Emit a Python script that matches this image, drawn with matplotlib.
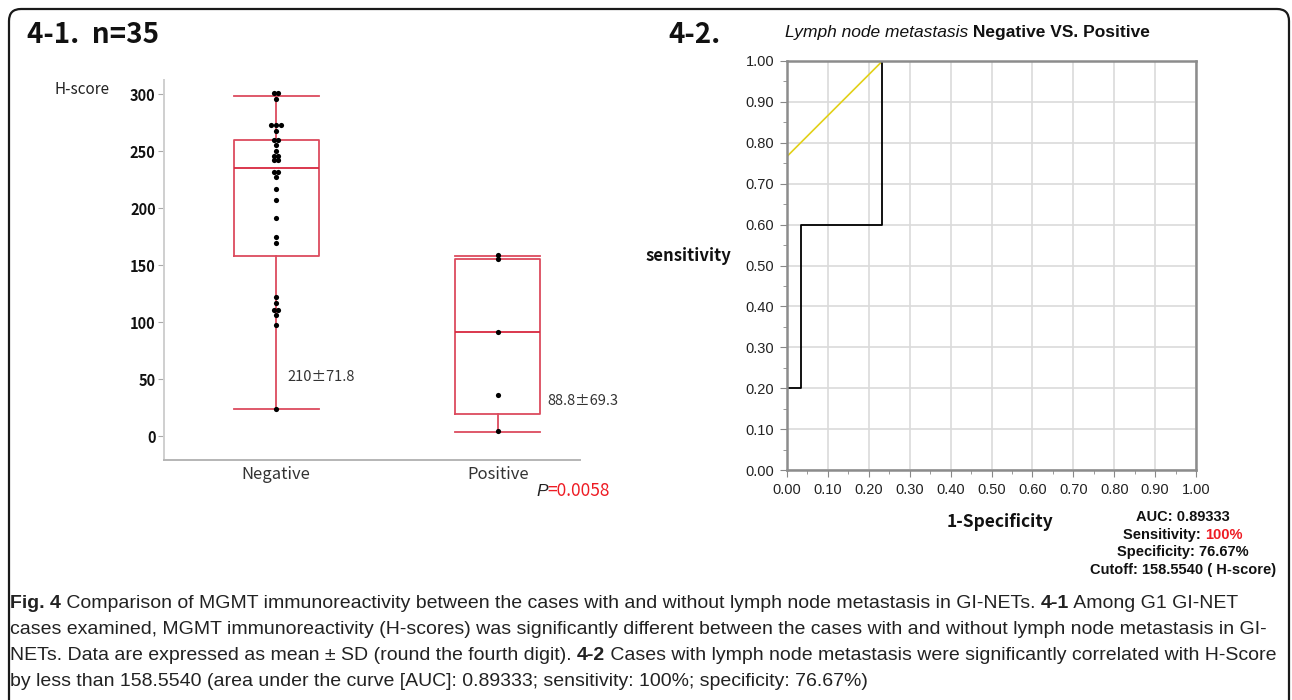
import matplotlib.pyplot as plt
import numpy as np
from matplotlib.patches import FancyBboxPatch
from matplotlib.transforms import IdentityTransform
from matplotlib.ticker import MultipleLocator, FormatStrFormatter

W, H = 1292, 700

# 4-1 box plot data (H-score)
groups = ['Negative', 'Positive']
neg_scores = [301, 301, 296, 273, 273, 273, 268, 260, 260, 255, 250, 246, 246,
              242, 242, 232, 232, 227, 217, 207, 191, 175, 169, 122, 117, 111,
              111, 106, 97, 24]
pos_scores = [159, 155, 91, 36, 4]
box_q1 = [157.6, 19.6]
box_med = [235.4, 91.0]
box_q3 = [259.4, 155.5]
whisker_lo = [23.6, 3.5]
whisker_hi = [298.2, 158.2]
mean_sd = ['210±71.8', '88.8±69.3']
h_ticks = [0, 50, 100, 150, 200, 250, 300]
p_value = '0.0058'

# 4-2 ROC curve data
roc_fpr = [0.0, 0.0, 0.0333, 0.0333, 0.2333, 0.2333, 1.0]
roc_tpr = [0.0, 0.2, 0.2, 0.6, 0.6, 1.0, 1.0]
tangent_fpr = [0.0, 0.2333]
tangent_tpr = [0.7667, 1.0]
roc_ticks = [0.0, 0.1, 0.2, 0.3, 0.4, 0.5, 0.6, 0.7, 0.8, 0.9, 1.0]
auc_text = 'AUC: 0.89333'
sens_value = '100%'
spec_text = 'Specificity: 76.67%'
cutoff_text = 'Cutoff: 158.5540 ( H-score)'

JP = ['Noto Sans CJK JP', 'DejaVu Sans']
ARIAL = ['Liberation Sans', 'DejaVu Sans']
RED = '#dc4b5e'


def fx(x):
    return x / W


def fy(y):
    return 1 - y / H


# draw several text runs on one line, each with its own style
def text_runs(fig, x, y, runs, ha='left', **kw):
    r = fig.canvas.get_renderer()
    made = []
    for s, extra in runs:
        t = fig.text(0, fy(y), s, va='center', **{**kw, **extra})
        made.append((t, t.get_window_extent(r).width))
    total = sum(w for _, w in made)
    cur = x - total / 2 if ha == 'center' else x
    for t, w in made:
        t.set_x(fx(cur))
        cur += w


# spread duplicate values side by side
def swarm_x(vals, center, step=0.021):
    xs = []
    seen = {}
    for v in vals:
        n = vals.count(v)
        j = seen.get(v, 0)
        seen[v] = j + 1
        xs.append(center + (j - (n - 1) / 2) * step)
    return xs


fig = plt.figure(figsize=(W / 100, H / 100), dpi=100)
fig.canvas.draw()

# outer rounded frame
frame = FancyBboxPatch((9, -30), 1280, 721, boxstyle='round,pad=0,rounding_size=12',
                       transform=IdentityTransform(), fill=False, ec='#1a1a1a', lw=1.6)
fig.add_artist(frame)

# ---------------- 4-1 box plot ----------------
ax1 = fig.add_axes([fx(164), fy(460), fx(580 - 164), (460 - 80) / H])
stats = []
for i in range(len(groups)):
    stats.append(dict(med=box_med[i], q1=box_q1[i], q3=box_q3[i],
                      whislo=whisker_lo[i], whishi=whisker_hi[i], fliers=[]))
lp = dict(color=RED, lw=1.3)
ax1.bxp(stats, positions=[0, 1], widths=0.383, capwidths=[0.383, 0.383],
        showfliers=False, boxprops=lp, whiskerprops=lp, capprops=lp,
        medianprops=dict(color='#d8283f', lw=1.3))
for pos, vals in enumerate([neg_scores, pos_scores]):
    ax1.scatter(swarm_x(vals, pos), vals, s=14, color='black', zorder=5, lw=0)

ax1.set_xlim(-0.505, 1.37)
ax1.set_ylim(-21, 312.3)
ax1.set_yticks(h_ticks)
ax1.set_xticks([0, 1])
ax1.set_xticklabels(groups, fontsize=12, family=JP, color='#333')
ax1.tick_params(axis='x', length=0, pad=4)
ax1.tick_params(axis='y', length=4, color='#aaa', pad=2, labelsize=10.5)
for lab in ax1.get_yticklabels():
    lab.set_family(JP)
    lab.set_weight('bold')
    lab.set_color('#111')
for s in ['top', 'right']:
    ax1.spines[s].set_visible(False)
ax1.spines['left'].set_color('#cfcfcf')
ax1.spines['bottom'].set_color('#b5b5b5')
ax1.spines['left'].set_linewidth(1.4)
ax1.spines['bottom'].set_linewidth(1.4)

ax1.text(0.05, 52, mean_sd[0], fontsize=10.5, family=JP, color='#333', va='center')
ax1.text(1.225, 31, mean_sd[1], fontsize=10.5, family=JP, color='#333', va='center')

fig.text(fx(55), fy(90), 'H-score', fontsize=11, family=JP, color='#222', va='center')
text_runs(fig, 536, 491, [('P', dict(style='italic', color='#222', family=ARIAL)),
                          ('=' + p_value, dict(color='#ee1c24', family=JP))], fontsize=12.5)
fig.text(fx(27), fy(35), '4-1.  n=35', fontsize=20, weight='bold', family=JP,
         va='center', color='#111')

# ---------------- 4-2 ROC curve ----------------
ax2 = fig.add_axes([fx(787), fy(470), fx(1196 - 787), (470 - 61) / H])
ax2.plot(tangent_fpr, tangent_tpr, color='#e2d018', lw=1.2, zorder=3)
ax2.plot(roc_fpr, roc_tpr, color='black', lw=1.3, zorder=3)
ax2.set_xlim(0, 1)
ax2.set_ylim(0, 1)
ax2.set_xticks(roc_ticks)
ax2.set_yticks(roc_ticks)
ax2.xaxis.set_minor_locator(MultipleLocator(0.05))
ax2.yaxis.set_minor_locator(MultipleLocator(0.05))
ax2.xaxis.set_major_formatter(FormatStrFormatter('%.2f'))
ax2.yaxis.set_major_formatter(FormatStrFormatter('%.2f'))
ax2.grid(True, which='major', color='#dadada', lw=1.2)
ax2.set_axisbelow(True)
ax2.tick_params(which='major', length=5, color='#888', labelsize=10.5, pad=4)
ax2.tick_params(which='minor', length=3, color='#888')
for lab in ax2.get_xticklabels() + ax2.get_yticklabels():
    lab.set_family(ARIAL)
    lab.set_color('#222')
for s in ax2.spines.values():
    s.set_color('#8c8c8c')
    s.set_linewidth(1.8)
    s.set_zorder(4)

fig.text(fx(688), fy(256), 'sensitivity', fontsize=12, weight='bold', family=JP,
         ha='center', va='center', color='#111')
fig.text(fx(1000), fy(522), '1-Specificity', fontsize=12.5, weight='bold', family=JP,
         ha='center', va='center', color='#111')
text_runs(fig, 785, 33, [('Lymph node metastasis', dict(style='italic')),
                         (' Negative VS. Positive', dict(weight='bold'))],
          fontsize=12.5, family=ARIAL, color='#111')
fig.text(fx(668), fy(35), '4-2.', fontsize=20, weight='bold', family=JP,
         va='center', color='#111')

bold = dict(weight='bold', family=ARIAL, color='#111')
text_runs(fig, 1183, 517, [(auc_text, {})], ha='center', fontsize=10.5, **bold)
text_runs(fig, 1183, 535, [('Sensitivity: ', {}), (sens_value, dict(color='#ee1c24'))],
          ha='center', fontsize=10.5, **bold)
text_runs(fig, 1183, 552, [(spec_text, {})], ha='center', fontsize=10.5, **bold)
text_runs(fig, 1183, 570, [(cutoff_text, {})], ha='center', fontsize=10.5, **bold)

# ---------------- caption ----------------
B = dict(weight='bold')
N = {}
cap_lines = [
    [('Fig. 4', B), (' Comparison of MGMT immunoreactivity between the cases with and without '
                     'lymph node metastasis in GI-NETs. ', N), ('4-1', B), (' Among G1 GI-NET', N)],
    [('cases examined, MGMT immunoreactivity (H-scores) was significantly different between the '
      'cases with and without lymph node metastasis in GI-', N)],
    [('NETs. Data are expressed as mean ± SD (round the fourth digit). ', N), ('4-2', B),
     (' Cases with lymph node metastasis were significantly correlated with H-Score', N)],
    [('by less than 158.5540 (area under the curve [AUC]: 0.89333; sensitivity: 100%; '
      'specificity: 76.67%)', N)],
]
for k, runs in enumerate(cap_lines):
    text_runs(fig, 10, 604 + 26 * k, runs, fontsize=14.0, family=ARIAL, color='#222')

fig.savefig('out.png', dpi=100)
